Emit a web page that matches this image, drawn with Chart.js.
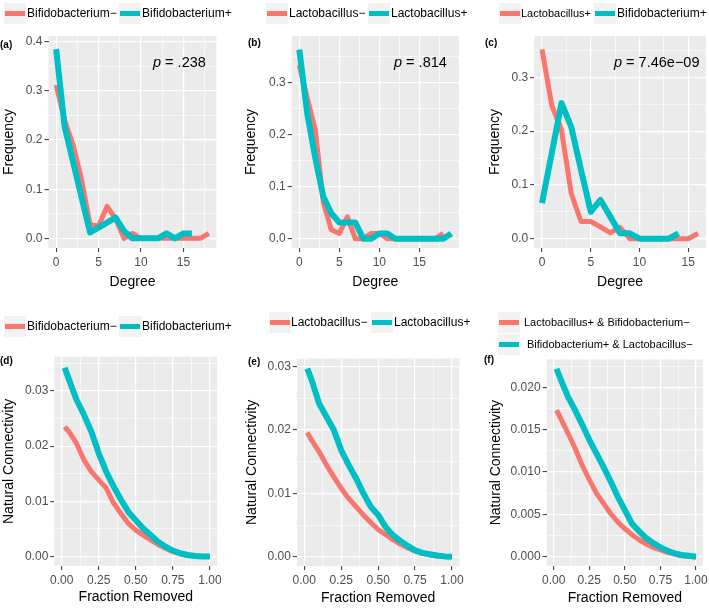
<!DOCTYPE html>
<html>
<head>
<meta charset="utf-8">
<script src="https://cdn.jsdelivr.net/npm/chart.js@4"></script>
<style>
body { margin:0; background:#fff; font-family:"Liberation Sans", Arial, sans-serif; }
#fig { position:relative; width:709px; height:608px; overflow:hidden; }
canvas { position:absolute; }
.key { position:absolute; width:22px; height:21px; background:#f2f2f2; }
.key i { position:absolute; left:1px; right:1px; top:8px; height:5px; }
.lab { position:absolute; font-size:12px; line-height:14px; color:#000; white-space:nowrap; }
.red { background:#F8766D; }
.teal { background:#00BFC4; }
.tag { position:absolute; font-weight:bold; font-size:10px; }
.pval { position:absolute; font-size:14.5px; }
</style>
</head>
<body>
<div id="fig">
  <canvas id="pa"></canvas>
  <canvas id="pb"></canvas>
  <canvas id="pc"></canvas>
  <canvas id="pd"></canvas>
  <canvas id="pe"></canvas>
  <canvas id="pf"></canvas>

  <!-- legends -->
  <div class="key" style="left:4px;top:3px"><i class="red"></i></div><div class="lab" style="left:27px;top:6px">Bifidobacterium−</div>
  <div class="key" style="left:119px;top:3px"><i class="teal"></i></div><div class="lab" style="left:142px;top:6px">Bifidobacterium+</div>

  <div class="key" style="left:266px;top:3px"><i class="red"></i></div><div class="lab" style="left:289px;top:6px">Lactobacillus−</div>
  <div class="key" style="left:368px;top:3px"><i class="teal"></i></div><div class="lab" style="left:391px;top:6px">Lactobacillus+</div>

  <div class="key" style="left:499px;top:3px"><i class="red"></i></div><div class="lab" style="left:521px;top:6px;font-size:11px">Lactobacillus+</div>
  <div class="key" style="left:594px;top:3px"><i class="teal"></i></div><div class="lab" style="left:617px;top:6px">Bifidobacterium+</div>

  <div class="key" style="left:4px;top:316px"><i class="red"></i></div><div class="lab" style="left:27px;top:319px">Bifidobacterium−</div>
  <div class="key" style="left:119px;top:316px"><i class="teal"></i></div><div class="lab" style="left:142px;top:319px">Bifidobacterium+</div>

  <div class="key" style="left:269px;top:312px"><i class="red"></i></div><div class="lab" style="left:291px;top:315px">Lactobacillus−</div>
  <div class="key" style="left:371px;top:312px"><i class="teal"></i></div><div class="lab" style="left:394px;top:315px">Lactobacillus+</div>

  <div class="key" style="left:498px;top:312px"><i class="red"></i></div><div class="lab" style="left:524px;top:315px;font-size:11px">Lactobacillus+ &amp; Bifidobacterium−</div>
  <div class="key" style="left:498px;top:334px"><i class="teal"></i></div><div class="lab" style="left:527px;top:337px;font-size:11px">Bifidobacterium+ &amp; Lactobacillus−</div>

  <div class="tag" style="left:0px;top:39px">(a)</div>
  <div class="tag" style="left:248px;top:37px">(b)</div>
  <div class="tag" style="left:485px;top:37px">(c)</div>
  <div class="tag" style="left:0px;top:355px">(d)</div>
  <div class="tag" style="left:248px;top:356px">(e)</div>
  <div class="tag" style="left:484px;top:354px">(f)</div>

  <div class="pval" style="left:153px;top:54px"><i>p</i> = .238</div>
  <div class="pval" style="left:394px;top:54px"><i>p</i> = .814</div>
  <div class="pval" style="left:614px;top:54px"><i>p</i> = 7.46e−09</div>
</div>

<script>
// --- data ---
// degree distributions (index = degree)
const bifMinusFreq = [0.312, 0.24, 0.19, 0.119, 0.028, 0.025, 0.065, 0.04, 0.0, 0.01, 0, 0, 0, 0, 0, 0, 0, 0, 0.01];
const bifPlusFreq  = [0.385, 0.227, 0.155, 0.083, 0.012, 0.022, 0.032, 0.042, 0.015, 0, 0, 0, 0, 0.01, 0, 0.01, 0.01];
const lacMinusFreq = [0.334, 0.27, 0.209, 0.07, 0.017, 0.01, 0.042, 0, 0, 0.01, 0.01, 0, 0, 0, 0, 0, 0, 0, 0.01];
const lacPlusFreq  = [0.364, 0.24, 0.155, 0.081, 0.049, 0.031, 0.031, 0.031, 0, 0, 0.01, 0.01, 0, 0, 0, 0, 0, 0, 0, 0.01];
const lacPlusFreqC = [0.352, 0.248, 0.202, 0.084, 0.032, 0.032, 0.022, 0.011, 0.021, 0, 0, 0, 0, 0, 0, 0, 0.01];
const bifPlusFreqC = [0.066, 0.159, 0.252, 0.208, 0.128, 0.05, 0.072, 0.041, 0.01, 0.01, 0, 0, 0, 0, 0.01];

// natural connectivity vs fraction removed
const fracRemoved = [0.02, 0.05, 0.10, 0.15, 0.20, 0.25, 0.30, 0.35, 0.40, 0.45, 0.50, 0.55, 0.60, 0.65, 0.70, 0.75, 0.80, 0.85, 0.90, 0.95, 1.00];
const bifMinusNC = [0.0235, 0.0226, 0.0205, 0.0175, 0.0154, 0.0139, 0.0124, 0.0097, 0.0078, 0.006, 0.0048, 0.0039, 0.003, 0.0022, 0.0015, 0.0009, 0.0005, 0.0002, 0.0001, 0.00003, 0];
const bifPlusNC  = [0.0342, 0.032, 0.0284, 0.0257, 0.0226, 0.0187, 0.0154, 0.0127, 0.0103, 0.0081, 0.0066, 0.0051, 0.0039, 0.0027, 0.0018, 0.0011, 0.0006, 0.0003, 0.0001, 0.00004, 0];
const lacMinusNC = [0.0196, 0.0184, 0.0166, 0.0145, 0.0126, 0.0108, 0.0092, 0.0079, 0.0066, 0.0054, 0.0043, 0.0035, 0.0027, 0.002, 0.0014, 0.0009, 0.0005, 0.0003, 0.0001, 0.00003, 0];
const lacPlusNC  = [0.0297, 0.0279, 0.0242, 0.0221, 0.02, 0.0168, 0.0145, 0.0124, 0.01, 0.0079, 0.0066, 0.0047, 0.0034, 0.0025, 0.0017, 0.001, 0.0006, 0.0004, 0.0002, 0.00005, 0];
const lacPbifMNC = [0.0173, 0.0163, 0.0146, 0.0128, 0.0108, 0.0091, 0.0075, 0.0063, 0.0051, 0.0041, 0.0033, 0.0026, 0.002, 0.0015, 0.0011, 0.0008, 0.0005, 0.0003, 0.0001, 0.00003, 0];
const bifPlacMNC = [0.0222, 0.0209, 0.0189, 0.0173, 0.0156, 0.0138, 0.0122, 0.0106, 0.0089, 0.0071, 0.0055, 0.0039, 0.003, 0.0022, 0.0016, 0.0011, 0.0007, 0.0004, 0.0002, 0.0001, 0];

// tick labels
const degTicks = ['0', '5', '10', '15'];
const freqTicksA = ['0.0', '0.1', '0.2', '0.3', '0.4'];
const freqTicks = ['0.0', '0.1', '0.2', '0.3'];
const fracTicks = ['0.00', '0.25', '0.50', '0.75', '1.00'];
const ncTicks = ['0.00', '0.01', '0.02', '0.03'];
const ncTicksF = ['0.000', '0.005', '0.010', '0.015', '0.020'];

const RED = '#F8766D', TEAL = '#00BFC4';
const FONT = '"Liberation Sans", Arial, sans-serif';

const pts = (xs, ys) => ys.map((y, i) => ({ x: xs[i], y: y }));
const idx = (ys) => ys.map((_, i) => i);

// minor grid positions halfway between majors (ggplot style)
function mids(majors, min, max) {
  const step = majors[1] - majors[0];
  const out = [];
  for (let v = majors[0] - step / 2; v <= max + 1e-12; v += step) {
    if (v >= min) out.push(+v.toFixed(6));
  }
  return out;
}

function axis(o) {
  const majors = o.labels.map(Number);
  const minors = mids(majors, o.min, o.max);
  const isMajor = (v) => majors.some(m => Math.abs(m - v) < 1e-9);
  return {
    type: 'linear',
    min: o.min, max: o.max,
    afterBuildTicks: (s) => { s.ticks = majors.concat(minors).map(v => ({ value: v })); },
    afterFit: (s) => { if (o.x) s.height = o.size; else s.width = o.size; },
    border: { display: false },
    grid: {
      color: '#ffffff',
      lineWidth: (c) => isMajor(c.tick.value) ? 1.2 : 0.6,
      tickColor: (c) => isMajor(c.tick.value) ? '#333333' : 'rgba(0,0,0,0)',
      tickWidth: 1,
      tickLength: 4
    },
    ticks: {
      autoSkip: false, maxRotation: 0,
      padding: o.x ? 3.5 : 2,
      color: '#4D4D4D',
      font: { family: FONT, size: 12 },
      callback: (v) => { const i = majors.findIndex(m => Math.abs(m - v) < 1e-9); return i < 0 ? '' : o.labels[i]; }
    },
    title: {
      display: true, text: o.title, color: '#000',
      font: { family: FONT, size: 14 },
      padding: o.x ? { top: 0, bottom: o.tpad } : { top: o.tpad, bottom: 0 }
    }
  };
}

const panelBg = {
  id: 'panelBg',
  beforeDraw(chart) {
    const a = chart.chartArea, ctx = chart.ctx;
    ctx.save();
    ctx.fillStyle = '#EBEBEB';
    ctx.fillRect(a.left, a.top, a.right - a.left, a.bottom - a.top);
    ctx.restore();
  }
};

function panel(id, box, plot, red, teal, xa, ya, yTitleX, xTitleY) {
  const cv = document.getElementById(id);
  cv.style.left = box[0] + 'px'; cv.style.top = box[1] + 'px';
  cv.width = box[2]; cv.height = box[3];
  const lh = 14 * 1.2;
  xa.x = true;
  xa.size = box[1] + box[3] - plot[3];
  xa.tpad = box[1] + box[3] - xTitleY - lh / 2;
  ya.size = plot[0] - box[0];
  ya.tpad = yTitleX - box[0] - lh / 2;
  new Chart(cv, {
    type: 'line',
    data: {
      datasets: [
        { data: teal, borderColor: TEAL, borderWidth: 6, order: 0 },
        { data: red, borderColor: RED, borderWidth: 5, order: 1 }
      ]
    },
    options: {
      responsive: false, animation: false,
      elements: {
        point: { radius: 0 },
        line: { tension: 0, borderJoinStyle: 'round', borderCapStyle: 'butt' }
      },
      layout: { padding: { top: plot[1] - box[1], right: box[0] + box[2] - plot[2], left: 0, bottom: 0 } },
      plugins: { legend: { display: false }, tooltip: { enabled: false } },
      scales: { x: axis(xa), y: axis(ya) }
    },
    plugins: [panelBg]
  });
}

panel('pa', [0, 0, 236, 300], [48.5, 36, 216.5, 248],
  pts(idx(bifMinusFreq), bifMinusFreq), pts(idx(bifPlusFreq), bifPlusFreq),
  { min: -0.9, max: 18.9, labels: degTicks, title: 'Degree' },
  { min: -0.0196, max: 0.4116, labels: freqTicksA, title: 'Frequency' }, 9, 282.5);

panel('pb', [236, 0, 236, 300], [291.7, 36, 458.9, 248],
  pts(idx(lacMinusFreq), lacMinusFreq), pts(idx(lacPlusFreq), lacPlusFreq),
  { min: -0.95, max: 19.95, labels: degTicks, title: 'Degree' },
  { min: -0.018, max: 0.39, labels: freqTicks, title: 'Frequency' }, 251, 282.5);

panel('pc', [472, 0, 237, 300], [534.2, 36, 705.8, 248],
  pts(idx(lacPlusFreqC), lacPlusFreqC), pts(idx(bifPlusFreqC), bifPlusFreqC),
  { min: -0.8, max: 16.8, labels: degTicks, title: 'Degree' },
  { min: -0.0173, max: 0.3768, labels: freqTicks, title: 'Frequency' }, 495, 282.5);

panel('pd', [0, 300, 236, 308], [54.3, 356.7, 217.3, 566],
  pts(fracRemoved, bifMinusNC), pts(fracRemoved, bifPlusNC),
  { min: -0.05, max: 1.05, labels: fracTicks, title: 'Fraction Removed' },
  { min: -0.0017, max: 0.0362, labels: ncTicks, title: 'Natural Connectivity' }, 9, 597);

panel('pe', [236, 300, 236, 308], [296.9, 358.5, 459.4, 566.2],
  pts(fracRemoved, lacMinusNC), pts(fracRemoved, lacPlusNC),
  { min: -0.05, max: 1.05, labels: fracTicks, title: 'Fraction Removed' },
  { min: -0.0015, max: 0.0313, labels: ncTicks, title: 'Natural Connectivity' }, 252.5, 598);

panel('pf', [472, 300, 237, 308], [546.6, 359.4, 703.1, 566],
  pts(fracRemoved, lacPbifMNC), pts(fracRemoved, bifPlacMNC),
  { min: -0.05, max: 1.05, labels: fracTicks, title: 'Fraction Removed' },
  { min: -0.0011, max: 0.0233, labels: ncTicksF, title: 'Natural Connectivity' }, 496, 598);
</script>
</body>
</html>
